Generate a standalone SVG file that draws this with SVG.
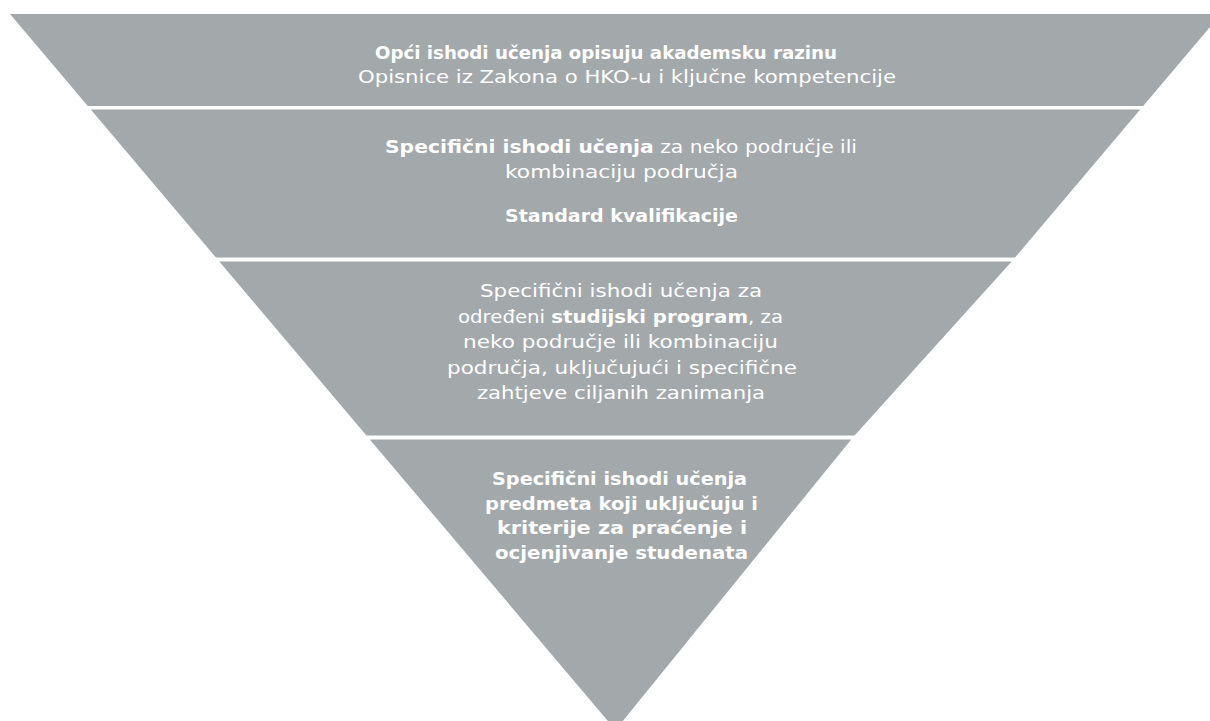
<svg xmlns="http://www.w3.org/2000/svg" width="1210" height="721" viewBox="0 0 1210 721">
<style>
.band{fill:#a3a9ab;}
text{font-family:"DejaVu Sans","Liberation Sans",sans-serif;font-size:18px;fill:#ffffff;text-anchor:middle;}
.b{font-weight:bold;}
</style>
<rect width="1210" height="721" fill="#ffffff"/>
<g id="level1">
<polygon class="band" points="10,14 1221,14 1143.2,106 87.8,106"/>
<text x="606" y="59" class="b" textLength="462" lengthAdjust="spacingAndGlyphs">Opći ishodi učenja opisuju akademsku razinu</text>
<text x="627" y="83" textLength="538" lengthAdjust="spacingAndGlyphs">Opisnice iz Zakona o HKO-u i ključne kompetencije</text>
</g>
<g id="level2">
<polygon class="band" points="90.8,109.5 1140.2,109.5 1015.1,257.5 215.9,257.5"/>
<text x="621" y="153" textLength="472" lengthAdjust="spacingAndGlyphs"><tspan class="b">Specifični ishodi učenja</tspan> za neko područje ili</text>
<text x="621.5" y="178" textLength="233" lengthAdjust="spacingAndGlyphs">kombinaciju područja</text>
<text x="621.5" y="222" class="b" textLength="233" lengthAdjust="spacingAndGlyphs">Standard kvalifikacije</text>
</g>
<g id="level3">
<polygon class="band" points="219.3,261.5 1011.7,261.5 854.6,435.5 366.4,435.5"/>
<text x="621" y="297" textLength="282" lengthAdjust="spacingAndGlyphs">Specifični ishodi učenja za</text>
<text x="620.5" y="322.5" textLength="325" lengthAdjust="spacingAndGlyphs">određeni <tspan class="b">studijski program</tspan>, za</text>
<text x="620.5" y="348" textLength="315" lengthAdjust="spacingAndGlyphs">neko područje ili kombinaciju</text>
<text x="622" y="373.5" textLength="350" lengthAdjust="spacingAndGlyphs">područja, uključujući i specifične</text>
<text x="621" y="398.5" textLength="288" lengthAdjust="spacingAndGlyphs">zahtjeve ciljanih zanimanja</text>
</g>
<g id="level4">
<polygon class="band" points="369.8,439.5 851.2,439.5 615.5,730"/>
<text x="619.5" y="485" class="b" textLength="255" lengthAdjust="spacingAndGlyphs">Specifični ishodi učenja</text>
<text x="621.5" y="509.5" class="b" textLength="273" lengthAdjust="spacingAndGlyphs">predmeta koji uključuju i</text>
<text x="622" y="534" class="b" textLength="250" lengthAdjust="spacingAndGlyphs">kriterije za praćenje i</text>
<text x="621.5" y="558.5" class="b" textLength="253" lengthAdjust="spacingAndGlyphs">ocjenjivanje studenata</text>
</g>
<g id="connectors"/>
</svg>
